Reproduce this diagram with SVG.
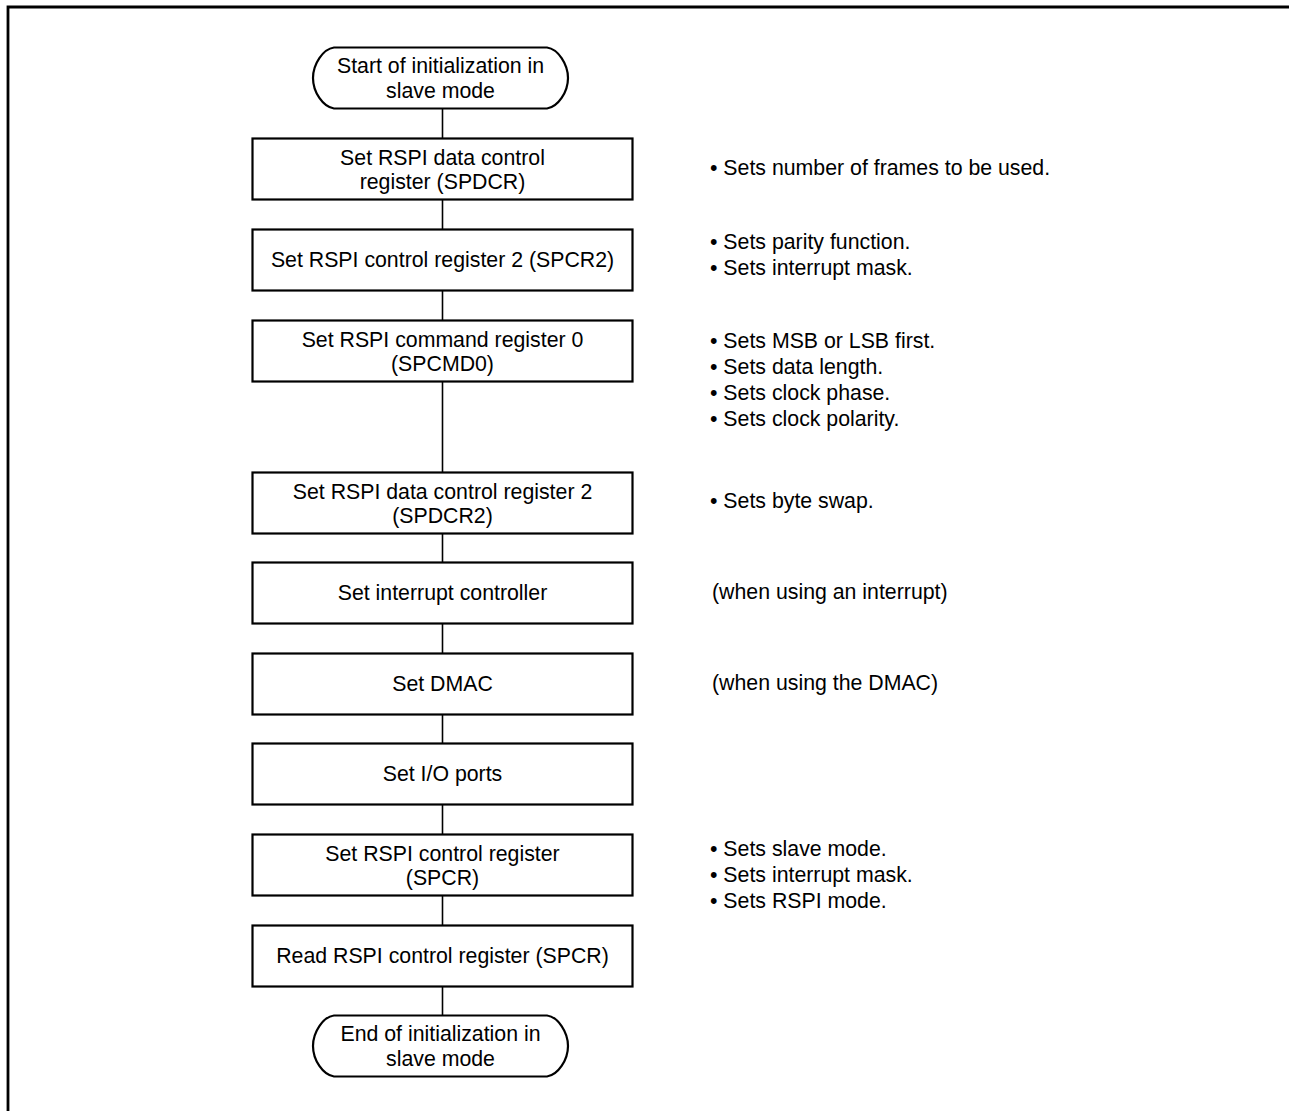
<svg xmlns="http://www.w3.org/2000/svg" width="1289" height="1111" viewBox="0 0 1289 1111">
<style>
.box{fill:#fff;stroke:#000;stroke-width:2.2}
.t{font-family:"Liberation Sans",Arial,sans-serif;font-size:21.3px;fill:#000;text-anchor:middle}
.n{font-family:"Liberation Sans",Arial,sans-serif;font-size:21.3px;fill:#000}
.c{stroke:#000;stroke-width:1.6;fill:none}
</style>
<rect x="0" y="0" width="1289" height="1111" fill="#fff"/>
<path id="frame" d="M8 1111 V7 H1289" fill="none" stroke="#000" stroke-width="2.8"/>
<g id="connectors">
<line class="c" x1="442.5" y1="108" x2="442.5" y2="138"/>
<line class="c" x1="442.5" y1="199" x2="442.5" y2="229"/>
<line class="c" x1="442.5" y1="290" x2="442.5" y2="320"/>
<line class="c" x1="442.5" y1="381" x2="442.5" y2="472"/>
<line class="c" x1="442.5" y1="533" x2="442.5" y2="562"/>
<line class="c" x1="442.5" y1="623" x2="442.5" y2="653"/>
<line class="c" x1="442.5" y1="714" x2="442.5" y2="743"/>
<line class="c" x1="442.5" y1="804" x2="442.5" y2="834"/>
<line class="c" x1="442.5" y1="895" x2="442.5" y2="925"/>
<line class="c" x1="442.5" y1="986" x2="442.5" y2="1015"/>
</g>
<g id="start">
<path class="box" d="M334 47.5 H547 C558 49 568 64 568 78 C568 92 558 107 547 108.5 H334 C323 107 313 92 313 78 C313 64 323 49 334 47.5 Z"/>
<text class="t" x="440.5" y="72.5">Start of initialization in</text>
<text class="t" x="440.5" y="98">slave mode</text>
</g>
<g id="spdcr">
<rect class="box" x="252.5" y="138.5" width="380" height="61"/>
<text class="t" x="442.5" y="165">Set RSPI data control</text>
<text class="t" x="442.5" y="189">register (SPDCR)</text>
</g>
<g id="spcr2">
<rect class="box" x="252.5" y="229.5" width="380" height="61"/>
<text class="t" x="442.5" y="267">Set RSPI control register 2 (SPCR2)</text>
</g>
<g id="spcmd0">
<rect class="box" x="252.5" y="320.5" width="380" height="61"/>
<text class="t" x="442.5" y="347">Set RSPI command register 0</text>
<text class="t" x="442.5" y="371">(SPCMD0)</text>
</g>
<g id="spdcr2">
<rect class="box" x="252.5" y="472.5" width="380" height="61"/>
<text class="t" x="442.5" y="499">Set RSPI data control register 2</text>
<text class="t" x="442.5" y="523">(SPDCR2)</text>
</g>
<g id="intc">
<rect class="box" x="252.5" y="562.5" width="380" height="61"/>
<text class="t" x="442.5" y="600">Set interrupt controller</text>
</g>
<g id="dmac">
<rect class="box" x="252.5" y="653.5" width="380" height="61"/>
<text class="t" x="442.5" y="691">Set DMAC</text>
</g>
<g id="io">
<rect class="box" x="252.5" y="743.5" width="380" height="61"/>
<text class="t" x="442.5" y="781">Set I/O ports</text>
</g>
<g id="spcr">
<rect class="box" x="252.5" y="834.5" width="380" height="61"/>
<text class="t" x="442.5" y="861">Set RSPI control register</text>
<text class="t" x="442.5" y="885">(SPCR)</text>
</g>
<g id="readspcr">
<rect class="box" x="252.5" y="925.5" width="380" height="61"/>
<text class="t" x="442.5" y="963">Read RSPI control register (SPCR)</text>
</g>
<g id="end">
<path class="box" d="M334 1015.5 H547 C558 1017 568 1032 568 1046 C568 1060 558 1075 547 1076.5 H334 C323 1075 313 1060 313 1046 C313 1032 323 1017 334 1015.5 Z"/>
<text class="t" x="440.5" y="1041">End of initialization in</text>
<text class="t" x="440.5" y="1066">slave mode</text>
</g>
<g id="notes">
<text class="n" x="710" y="175">• Sets number of frames to be used.</text>
<text class="n" x="710" y="249">• Sets parity function.</text>
<text class="n" x="710" y="275">• Sets interrupt mask.</text>
<text class="n" x="710" y="348">• Sets MSB or LSB first.</text>
<text class="n" x="710" y="374">• Sets data length.</text>
<text class="n" x="710" y="400">• Sets clock phase.</text>
<text class="n" x="710" y="426">• Sets clock polarity.</text>
<text class="n" x="710" y="508">• Sets byte swap.</text>
<text class="n" x="712" y="599">(when using an interrupt)</text>
<text class="n" x="712" y="690">(when using the DMAC)</text>
<text class="n" x="710" y="856">• Sets slave mode.</text>
<text class="n" x="710" y="882">• Sets interrupt mask.</text>
<text class="n" x="710" y="908">• Sets RSPI mode.</text>
</g>
</svg>
